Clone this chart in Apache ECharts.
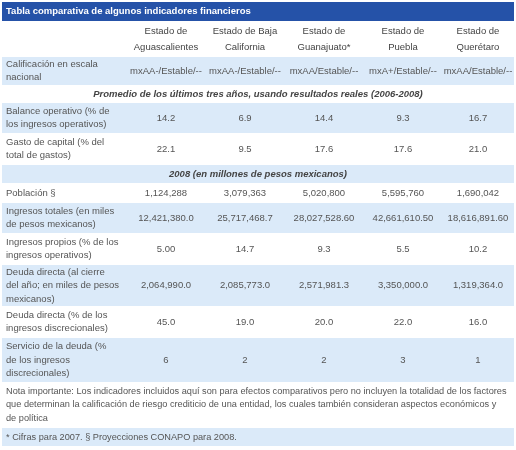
<!DOCTYPE html>
<html><head><meta charset="utf-8">
<script src="https://cdn.jsdelivr.net/npm/echarts@6/dist/echarts.min.js"></script>
<style>html,body{margin:0;padding:0;background:#fff}#c{width:516px;height:450px}</style>
</head><body><div id="c"></div>
<script>
const title = 'Tabla comparativa de algunos indicadores financieros';
const states = ['Estado de\nAguascalientes','Estado de Baja\nCalifornia','Estado de\nGuanajuato*','Estado de\nPuebla','Estado de\nQuerétaro'];
const calificacion = ['mxAA-/Estable/--','mxAA-/Estable/--','mxAA/Estable/--','mxA+/Estable/--','mxAA/Estable/--'];
const balanceOperativo = ['14.2','6.9','14.4','9.3','16.7'];
const gastoCapital = ['22.1','9.5','17.6','17.6','21.0'];
const poblacion = ['1,124,288','3,079,363','5,020,800','5,595,760','1,690,042'];
const ingresosTotales = ['12,421,380.0','25,717,468.7','28,027,528.60','42,661,610.50','18,616,891.60'];
const ingresosPropios = ['5.00','14.7','9.3','5.5','10.2'];
const deudaDirecta = ['2,064,990.0','2,085,773.0','2,571,981.3','3,350,000.0','1,319,364.0'];
const deudaPct = ['45.0','19.0','20.0','22.0','16.0'];
const servicioDeuda = ['6','2','2','3','1'];
const section1 = 'Promedio de los últimos tres años, usando resultados reales (2006-2008)';
const section2 = '2008 (en millones de pesos mexicanos)';
const nota = 'Nota importante: Los indicadores incluidos aquí son para efectos comparativos pero no incluyen la totalidad de los factores\nque determinan la calificación de riesgo crediticio de una entidad, los cuales también consideran aspectos económicos y\nde política';
const footnote = '* Cifras para 2007. § Proyecciones CONAPO para 2008.';

const rows = [
  {type:'head', y0:22, y1:56, bg:'#fff', vals:states},
  {type:'data', y0:57, y1:85, bg:'#dbeaf9', label:'Calificación en escala\nnacional', vals:calificacion},
  {type:'sec', y0:86, y1:102, bg:'#fff', label:section1},
  {type:'data', y0:103, y1:133, bg:'#dbeaf9', label:'Balance operativo (% de\nlos ingresos operativos)', vals:balanceOperativo},
  {type:'data', y0:134, y1:164, bg:'#fff', label:'Gasto de capital (% del\ntotal de gastos)', vals:gastoCapital},
  {type:'sec', y0:165, y1:183, bg:'#dbeaf9', label:section2},
  {type:'data', y0:184, y1:202, bg:'#fff', label:'Población §', vals:poblacion},
  {type:'data', y0:203, y1:233, bg:'#dbeaf9', label:'Ingresos totales (en miles\nde pesos mexicanos)', vals:ingresosTotales},
  {type:'data', y0:234, y1:264, bg:'#fff', label:'Ingresos propios (% de los\ningresos operativos)', vals:ingresosPropios},
  {type:'data', y0:265, y1:306, bg:'#dbeaf9', label:'Deuda directa (al cierre\ndel año; en miles de pesos\nmexicanos)', vals:deudaDirecta},
  {type:'data', y0:307, y1:337, bg:'#fff', label:'Deuda directa (% de los\ningresos discrecionales)', vals:deudaPct},
  {type:'data', y0:338, y1:382, bg:'#dbeaf9', label:'Servicio de la deuda (%\nde los ingresos\ndiscrecionales)', vals:servicioDeuda},
  {type:'note', y0:383, y1:426, bg:'#fff', label:nota},
  {type:'note', y0:428, y1:446, bg:'#dbeaf9', label:footnote}
];
const colX = [166, 245, 324, 403, 478];
const font = '"Liberation Sans", Arial, sans-serif';
const txt = '#555';
const g = [];
g.push({type:'rect', shape:{x:2,y:2,width:512,height:19}, style:{fill:'#2552a8'}});
g.push({type:'text', x:6, y:11.5, style:{text:title, fill:'#fff', font:'bold 9.5px '+font, textVerticalAlign:'middle'}});
rows.forEach(r => {
  const cy = (r.y0 + r.y1) / 2;
  g.push({type:'rect', shape:{x:2,y:r.y0,width:512,height:r.y1-r.y0}, style:{fill:r.bg}});
  if (r.type === 'head') {
    r.vals.forEach((v,i)=>g.push({type:'text', x:colX[i], y:cy, style:{text:v, fill:'#444', font:'9.5px '+font, textAlign:'center', textVerticalAlign:'middle', lineHeight:16}}));
  } else if (r.type === 'data') {
    g.push({type:'text', x:6, y:cy, style:{text:r.label, fill:txt, font:'9.5px '+font, textVerticalAlign:'middle', lineHeight:13.5}});
    r.vals.forEach((v,i)=>g.push({type:'text', x:colX[i], y:cy, style:{text:v, fill:txt, font:'9.5px '+font, textAlign:'center', textVerticalAlign:'middle'}}));
  } else if (r.type === 'sec') {
    g.push({type:'text', x:258, y:cy, style:{text:r.label, fill:'#444', font:'italic bold 9.5px '+font, textAlign:'center', textVerticalAlign:'middle'}});
  } else {
    g.push({type:'text', x:6, y:cy, style:{text:r.label, fill:txt, font:'9.2px '+font, textVerticalAlign:'middle', lineHeight:13.5}});
  }
});
const chart = echarts.init(document.getElementById('c'), null, {renderer:'canvas'});
chart.setOption({animation:false, graphic:g});
</script></body></html>
